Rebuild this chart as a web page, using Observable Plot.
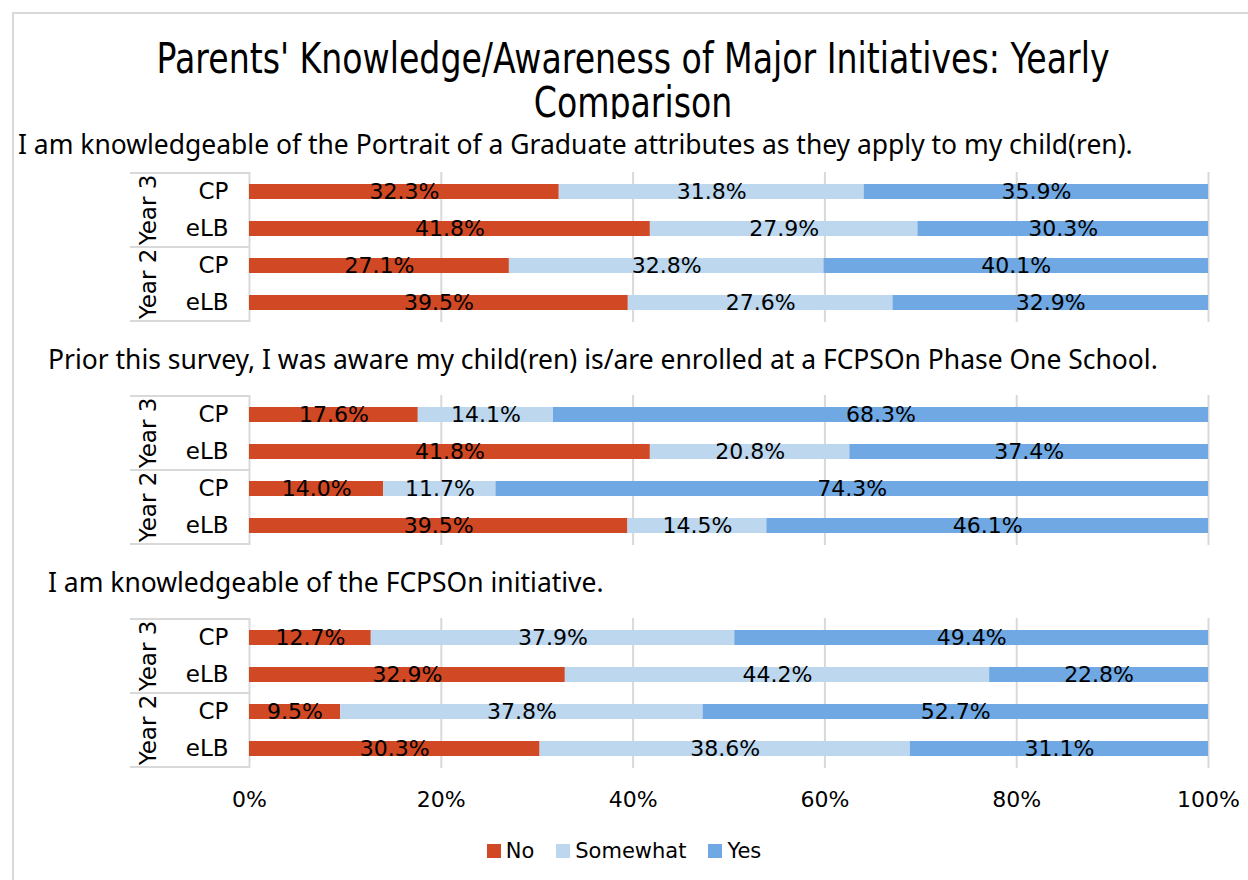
<!DOCTYPE html>
<html>
<head>
<meta charset="utf-8">
<script src="https://cdn.jsdelivr.net/npm/d3@7"></script>
<script src="https://cdn.jsdelivr.net/npm/@observablehq/plot@0.6"></script>
<style>
  html, body { margin: 0; padding: 0; background: #fff; overflow: hidden; }
  #root { position: relative; width: 1248px; height: 880px; font-family: "DejaVu Sans", sans-serif; color: #000; }
  #frame { position: absolute; left: 12px; top: 12px; width: 1260px; height: 900px; border: 2px solid #d9d9d9; box-sizing: border-box; }
  #titleClip { position: absolute; left: 0; top: 0; width: 1248px; height: 119px; overflow: hidden; }
  #title { position: absolute; left: 0; top: 36px; width: 1266px; text-align: center; font-size: 43px; line-height: 44px; white-space: nowrap; transform-origin: 633px 0; }
  .sub { position: absolute; font-family: "Noto Sans", "Open Sans", sans-serif; font-size: 23px; white-space: nowrap; line-height: 26px; }
  .panel { position: absolute; left: 0; }
  #legend { position: absolute; top: 839px; left: 0; width: 1248px; display: flex; justify-content: center; align-items: center; font-size: 21px; gap: 0; }
  #legend .item { display: flex; align-items: center; margin: 0 11px; }
  #legend .sw { width: 14px; height: 14px; margin-right: 5px; }
</style>
</head>
<body>
<div id="root">
  <div id="frame"></div>
  <div id="titleClip"><div id="title"><div>Parents' Knowledge/Awareness of Major Initiatives: Yearly</div><div>Comparison</div></div></div>
  <div class="sub" id="s0"></div>
  <div class="sub" id="s1"></div>
  <div class="sub" id="s2"></div>
  <div class="panel" id="p0"></div>
  <div class="panel" id="p1"></div>
  <div class="panel" id="p2"></div>
  <div id="legend"></div>
</div>
<script>
// ---- data ----
const questions = [
  "I am knowledgeable of the Portrait of a Graduate attributes as they apply to my child(ren).",
  "Prior this survey, I was aware my child(ren) is/are enrolled at a FCPSOn Phase One School.",
  "I am knowledgeable of the FCPSOn initiative."
];
const groups = ["Year 3", "Year 3", "Year 2", "Year 2"];
const programs = ["CP", "eLB", "CP", "eLB"];
const responses = ["No", "Somewhat", "Yes"];
const colors = ["#D14824", "#BDD7EE", "#6FA8E2"];
const xTicks = [0, 0.2, 0.4, 0.6, 0.8, 1];

// values per question: rows (Y3 CP, Y3 eLB, Y2 CP, Y2 eLB) x [No, Somewhat, Yes]
const q1No       = [32.3, 41.8, 27.1, 39.5];
const q1Somewhat = [31.8, 27.9, 32.8, 27.6];
const q1Yes      = [35.9, 30.3, 40.1, 32.9];
const q2No       = [17.6, 41.8, 14.0, 39.5];
const q2Somewhat = [14.1, 20.8, 11.7, 14.5];
const q2Yes      = [68.3, 37.4, 74.3, 46.1];
const q3No       = [12.7, 32.9, 9.5, 30.3];
const q3Somewhat = [37.9, 44.2, 37.8, 38.6];
const q3Yes      = [49.4, 22.8, 52.7, 31.1];

const series = [
  [q1No, q1Somewhat, q1Yes],
  [q2No, q2Somewhat, q2Yes],
  [q3No, q3Somewhat, q3Yes]
];

// ---- layout ----
const subPos = [{left: 18, top: 131}, {left: 48, top: 346}, {left: 48, top: 569}];
const panelTop = [172, 395, 618];
const FONT = "DejaVu Sans, sans-serif";

const rowKeys = groups.map((g, i) => g + "|" + programs[i]);

function catBox(rowKeysLocal, groupsLocal) {
  return (index, scales, values, dims) => {
    const y = scales.y;
    const bw = typeof y.bandwidth === "function" ? y.bandwidth() : y.bandwidth;
    const step = typeof y.step === "function" ? y.step() : (y(rowKeysLocal[1]) - y(rowKeysLocal[0]));
    const pad = (step - bw) / 2;
    const g = d3.create("svg:g");
    const x0 = 130, x1 = dims.marginLeft;
    const uniq = [...new Set(groupsLocal)];
    const bounds = [y(rowKeysLocal[0]) - pad];
    uniq.forEach(grp => {
      const idx = groupsLocal.map((d, i) => d === grp ? i : -1).filter(i => i >= 0);
      const top = y(rowKeysLocal[idx[0]]) - pad;
      const bot = y(rowKeysLocal[idx[idx.length - 1]]) + bw + pad;
      bounds.push(bot);
      g.append("text")
        .attr("transform", `translate(148,${(top + bot) / 2}) rotate(-90)`)
        .attr("text-anchor", "middle")
        .attr("dominant-baseline", "central")
        .attr("font-family", FONT)
        .attr("font-size", 23)
        .attr("fill", "#000")
        .text(grp);
    });
    bounds.forEach(b => {
      g.append("line").attr("x1", x0).attr("x2", x1).attr("y1", b).attr("y2", b)
        .attr("stroke", "#d9d9d9").attr("stroke-width", 2);
    });
    return g.node();
  };
}

series.forEach((vals, qi) => {
  const s = document.getElementById("s" + qi);
  s.textContent = questions[qi];
  s.style.left = subPos[qi].left + "px";
  s.style.top = subPos[qi].top + "px";

  const data = [];
  rowKeys.forEach((rk, ri) => {
    responses.forEach((r, k) => data.push({row: rk, response: r, value: vals[k][ri]}));
  });
  const last = qi === series.length - 1;
  const chart = Plot.plot({
    width: 1248,
    height: 150 + (last ? 50 : 0),
    marginLeft: 249,
    marginRight: 40,
    marginTop: 0,
    marginBottom: last ? 50 : 0,
    style: {fontFamily: FONT, fontSize: "22px", color: "#000", background: "transparent", overflow: "visible"},
    x: {domain: [0, 1], axis: null},
    y: {domain: rowKeys, paddingInner: 0.6, paddingOuter: 0.3, axis: null},
    color: {domain: responses, range: colors},
    marks: [
      Plot.gridX(xTicks, {stroke: "#d9d9d9", strokeOpacity: 1, strokeWidth: 2}),
      Plot.barX(data, Plot.stackX({x: "value", y: "row", fill: "response", offset: "normalize"})),
      Plot.text(data, Plot.stackX({x: "value", y: "row", z: "response", offset: "normalize",
        text: d => d.value.toFixed(1) + "%", fill: "#000", fontSize: 22, fontFamily: FONT})),
      Plot.text(rowKeys, {y: d => d, text: d => d.split("|")[1], frameAnchor: "left", dx: -21,
        textAnchor: "end", fill: "#000", fontSize: 23, fontFamily: FONT}),
      catBox(rowKeys, groups),
      last ? Plot.axisX(xTicks, {tickFormat: d3.format(".0%"), tickSize: 0, tickPadding: 23, label: null,
        fontSize: 22, fontFamily: FONT, fill: "#000"}) : null
    ]
  });
  const p = document.getElementById("p" + qi);
  p.style.top = panelTop[qi] + "px";
  p.appendChild(chart);
});

// legend
const leg = document.getElementById("legend");
responses.forEach((r, i) => {
  const it = document.createElement("div");
  it.className = "item";
  const sw = document.createElement("div");
  sw.className = "sw";
  sw.style.background = colors[i];
  const t = document.createElement("span");
  t.textContent = r;
  it.appendChild(sw); it.appendChild(t);
  leg.appendChild(it);
});

// fit subtitle font size so the first question spans ~1115px as in the reference
const s0 = document.getElementById("s0");
const sw0 = s0.getBoundingClientRect().width;
const subSize = 23 * 1115 / sw0;
document.querySelectorAll(".sub").forEach(el => { el.style.fontSize = subSize + "px"; });

// title width fit (first line ~953px wide in reference)
const title = document.getElementById("title");
const line1 = title.firstElementChild;
const range = document.createRange();
range.selectNodeContents(line1);
const w = range.getBoundingClientRect().width;
title.style.transform = `scaleX(${953 / w})`;
</script>
</body>
</html>
